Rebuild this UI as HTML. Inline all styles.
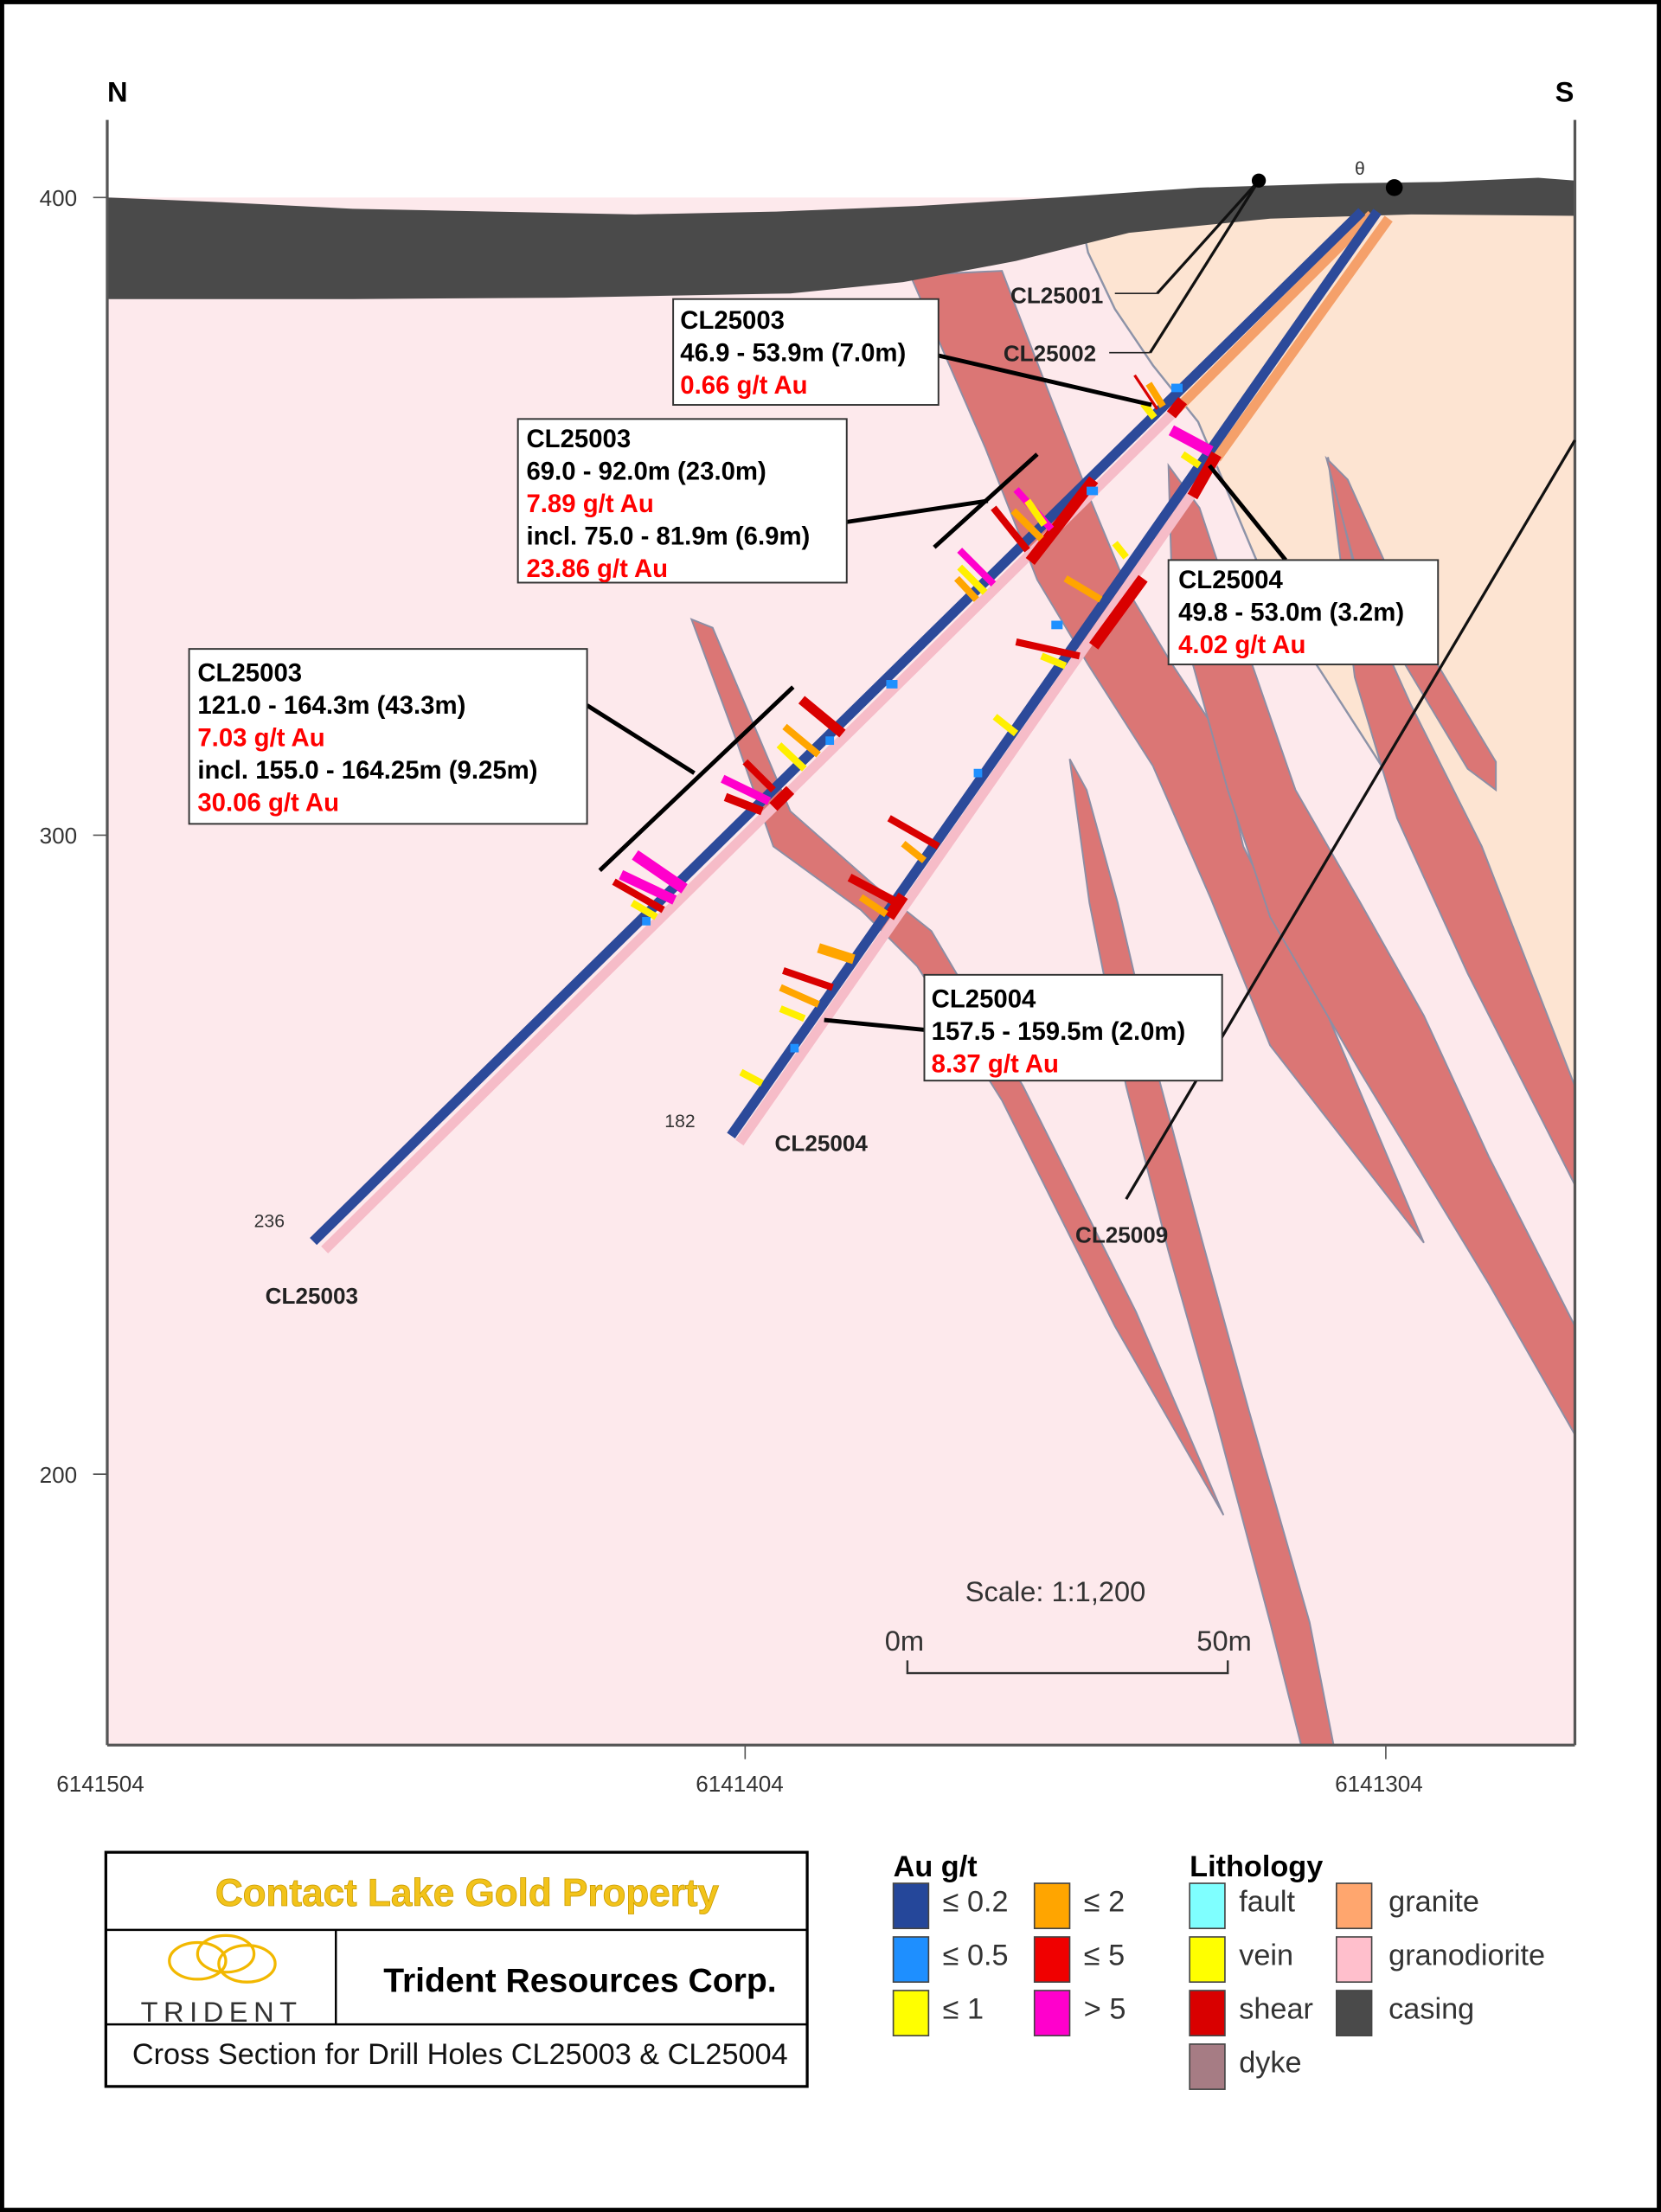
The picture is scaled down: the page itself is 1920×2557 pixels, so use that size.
<!DOCTYPE html>
<html><head><meta charset="utf-8"><style>html,body{margin:0;padding:0;background:#fff}svg{display:block}</style></head>
<body>
<svg width="1920" height="2557" viewBox="0 0 1177 1568" preserveAspectRatio="none" xmlns="http://www.w3.org/2000/svg" font-family="Liberation Sans, Arial, sans-serif">
<rect x="1.5" y="1.5" width="1174" height="1565" fill="#fff" stroke="#000" stroke-width="3"/>
<rect x="76" y="140" width="1040" height="1097" fill="#fde9ec"/>
<path d="M765,150 L1116,150 L1116,790 L1055,665 L990,560 L900,420 L849,299 L817,259 L790,219 L771,179 Z" fill="#fde4d2" stroke="#8d93a8" stroke-width="1.5"/>
<g fill="#db7675" stroke="#8d8ea4" stroke-width="1.2">
<path d="M645,195 L698,317 L735,411 L771,471 L817,543 L858,637 L900,741 L1009,881 L941,720 L881,600 L863,520 L830,470 L800,420 L771,350 L740,270 L710,192 Z"/>
<path d="M828,330 L850,360 L880,450 L918,560 L964,640 L1009,720 L1055,820 L1116,940 L1116,1017 L1055,910 L964,760 L900,650 L870,560 L845,470 L830,400 Z"/>
<path d="M941,324 L964,420 L1000,500 L1050,600 L1116,770 L1116,840 L1040,690 L990,580 L960,480 Z"/>
<path d="M940,325 L955,340 L1000,440 L1060,540 L1060,560 L1040,545 L995,470 L960,400 Z"/>
<path d="M490,439 L505,445 L560,575 L620,628 L660,660 L725,770 L805,930 L867,1074 L790,940 L710,780 L650,685 L610,645 L548,600 L520,520 Z"/>
<path d="M758,538 L770,560 L792,640 L820,760 L852,880 L885,1000 L928,1150 L945,1237 L922,1237 L900,1150 L860,1000 L828,887 L798,770 L772,640 Z"/>
</g>
<path d="M76,140 L150,143 L250,148 L350,150 L450,152 L550,150 L650,146 L750,140 L850,133 L950,130 L1020,129 L1090,126 L1116,128 L1116,153 L1000,152 L900,155 L800,165 L720,185 L640,200 L560,208 L400,211 L250,212 L76,212 Z" fill="#4a4a4a"/>
<line x1="76" y1="85" x2="76" y2="1237" stroke="#555" stroke-width="2"/>
<line x1="1116" y1="85" x2="1116" y2="1237" stroke="#555" stroke-width="2"/>
<line x1="76" y1="1237" x2="1116" y2="1237" stroke="#555" stroke-width="2"/>
<line x1="66" y1="140" x2="76" y2="140" stroke="#555"/><line x1="66" y1="592" x2="76" y2="592" stroke="#555"/><line x1="66" y1="1045" x2="76" y2="1045" stroke="#555"/>
<line x1="528" y1="1237" x2="528" y2="1247" stroke="#555"/><line x1="982" y1="1237" x2="982" y2="1247" stroke="#555"/>
<g font-size="16" fill="#333"><text x="28" y="146">400</text><text x="28" y="598">300</text><text x="28" y="1051">200</text>
<text x="40" y="1270">6141504</text><text x="493" y="1270">6141404</text><text x="946" y="1270">6141304</text></g>
<text x="76" y="72" font-size="20" font-weight="bold">N</text><text x="1102" y="72" font-size="20" font-weight="bold">S</text>
<line x1="1116" y1="312" x2="798" y2="850" stroke="#111" stroke-width="2"/>
<line x1="892" y1="128" x2="820" y2="208" stroke="#111" stroke-width="2"/><line x1="892" y1="128" x2="815" y2="250" stroke="#111" stroke-width="2"/>
<circle cx="892" cy="128" r="5" fill="#000"/><circle cx="988" cy="133" r="6" fill="#000"/>
<text x="960" y="124" font-size="13" fill="#333">θ</text>
<line x1="972" y1="152" x2="834" y2="290" stroke="#f5a06a" stroke-width="7"/>
<line x1="834" y1="290" x2="230" y2="886" stroke="#f6bcc8" stroke-width="7"/>
<line x1="965" y1="150" x2="222" y2="880" stroke="#2c4a9a" stroke-width="7"/>
<line x1="984" y1="155" x2="862" y2="325" stroke="#f5a06a" stroke-width="7"/>
<line x1="862" y1="325" x2="524" y2="810" stroke="#f6bcc8" stroke-width="7"/>
<line x1="976" y1="150" x2="518" y2="805" stroke="#2c4a9a" stroke-width="7"/>
<g stroke="#d90000" stroke-width="8"><line x1="838" y1="284" x2="830" y2="294"/><line x1="775" y1="340" x2="730" y2="398"/><line x1="560" y1="560" x2="548" y2="572"/>
<line x1="862" y1="322" x2="845" y2="352"/><line x1="810" y1="410" x2="775" y2="458"/><line x1="640" y1="635" x2="630" y2="650"/></g>
<g stroke-width="5">
<line x1="820" y1="290" x2="804" y2="266" stroke="#d90000" stroke-width="2"/><line x1="824" y1="288" x2="814" y2="272" stroke="#ffa500"/><line x1="818" y1="296" x2="810" y2="286" stroke="#ffef00"/>
<line x1="858" y1="320" x2="830" y2="305" stroke="#ff00cc" stroke-width="8"/><line x1="850" y1="330" x2="838" y2="322" stroke="#ffef00"/>
<line x1="745" y1="375" x2="720" y2="347" stroke="#ff00cc"/><line x1="738" y1="382" x2="718" y2="362" stroke="#ffa500"/><line x1="728" y1="390" x2="704" y2="360" stroke="#d90000"/><line x1="740" y1="372" x2="728" y2="355" stroke="#ffef00"/>
<line x1="704" y1="414" x2="680" y2="390" stroke="#ff00cc"/><line x1="698" y1="420" x2="680" y2="402" stroke="#ffef00"/><line x1="692" y1="425" x2="678" y2="410" stroke="#ffa500"/>
<line x1="597" y1="520" x2="568" y2="496" stroke="#d90000" stroke-width="7"/><line x1="580" y1="535" x2="556" y2="515" stroke="#ffa500"/><line x1="570" y1="545" x2="552" y2="528" stroke="#ffef00"/>
<line x1="545" y1="568" x2="512" y2="552" stroke="#ff00cc" stroke-width="6"/><line x1="540" y1="575" x2="514" y2="565" stroke="#d90000" stroke-width="6"/><line x1="548" y1="560" x2="528" y2="540" stroke="#d90000"/>
<line x1="485" y1="630" x2="450" y2="606" stroke="#ff00cc" stroke-width="8"/><line x1="478" y1="638" x2="440" y2="620" stroke="#ff00cc" stroke-width="7"/><line x1="470" y1="645" x2="435" y2="625" stroke="#d90000"/><line x1="465" y1="650" x2="448" y2="640" stroke="#ffef00"/>
<line x1="780" y1="425" x2="755" y2="410" stroke="#ffa500"/><line x1="798" y1="395" x2="790" y2="385" stroke="#ffef00"/>
<line x1="765" y1="465" x2="720" y2="455" stroke="#d90000"/><line x1="755" y1="472" x2="738" y2="465" stroke="#ffef00"/>
<line x1="720" y1="520" x2="705" y2="508" stroke="#ffef00"/><line x1="665" y1="600" x2="630" y2="580" stroke="#d90000"/><line x1="655" y1="610" x2="640" y2="598" stroke="#ffa500"/>
<line x1="636" y1="640" x2="602" y2="622" stroke="#d90000" stroke-width="6"/><line x1="628" y1="648" x2="610" y2="636" stroke="#ffa500"/>
<line x1="605" y1="680" x2="580" y2="672" stroke="#ffa500" stroke-width="7"/><line x1="590" y1="700" x2="555" y2="688" stroke="#d90000"/><line x1="580" y1="712" x2="553" y2="700" stroke="#ffa500"/><line x1="570" y1="722" x2="553" y2="715" stroke="#ffef00"/>
<line x1="540" y1="768" x2="525" y2="760" stroke="#ffef00"/>
</g>
<g fill="#1e90ff"><rect x="830" y="272" width="8" height="6"/><rect x="770" y="345" width="8" height="6"/><rect x="628" y="482" width="8" height="6"/><rect x="585" y="522" width="6" height="6"/><rect x="745" y="440" width="8" height="6"/><rect x="690" y="545" width="6" height="6"/><rect x="560" y="740" width="6" height="6"/><rect x="455" y="650" width="6" height="6"/></g>
<g font-size="16" font-weight="bold" fill="#222">
<text x="716" y="215">CL25001</text><text x="711" y="256">CL25002</text>
<text x="549" y="816">CL25004</text><text x="762" y="881">CL25009</text><text x="188" y="924">CL25003</text></g>
<line x1="790" y1="208" x2="820" y2="208" stroke="#222"/><line x1="786" y1="250" x2="815" y2="250" stroke="#222"/>
<g font-size="13" fill="#333"><text x="471" y="799">182</text><text x="180" y="870">236</text></g>
<g stroke="#000" stroke-width="3"><line x1="665" y1="252" x2="816" y2="287"/><line x1="600" y1="370" x2="700" y2="355"/><line x1="735" y1="322" x2="662" y2="388"/>
<line x1="857" y1="330" x2="911" y2="397"/><line x1="416" y1="500" x2="492" y2="548"/><line x1="562" y1="487" x2="425" y2="617"/><line x1="655" y1="730" x2="584" y2="723"/></g>
<g fill="#fff" stroke="#333" stroke-width="1.2">
<rect x="477" y="212" width="188" height="75"/><rect x="367" y="297" width="233" height="116"/><rect x="828" y="397" width="191" height="74"/><rect x="134" y="460" width="282" height="124"/><rect x="655" y="691" width="211" height="75"/></g>
<g font-size="18" font-weight="bold">
<text x="482" y="233">CL25003</text><text x="482" y="256">46.9 - 53.9m (7.0m)</text><text x="482" y="279" fill="#f00">0.66 g/t Au</text>
<text x="373" y="317">CL25003</text><text x="373" y="340">69.0 - 92.0m (23.0m)</text><text x="373" y="363" fill="#f00">7.89 g/t Au</text><text x="373" y="386">incl. 75.0 - 81.9m (6.9m)</text><text x="373" y="409" fill="#f00">23.86 g/t Au</text>
<text x="835" y="417">CL25004</text><text x="835" y="440">49.8 - 53.0m (3.2m)</text><text x="835" y="463" fill="#f00">4.02 g/t Au</text>
<text x="140" y="483">CL25003</text><text x="140" y="506">121.0 - 164.3m (43.3m)</text><text x="140" y="529" fill="#f00">7.03 g/t Au</text><text x="140" y="552">incl. 155.0 - 164.25m (9.25m)</text><text x="140" y="575" fill="#f00">30.06 g/t Au</text>
<text x="660" y="714">CL25004</text><text x="660" y="737">157.5 - 159.5m (2.0m)</text><text x="660" y="760" fill="#f00">8.37 g/t Au</text></g>
<g font-size="20" fill="#333"><text x="684" y="1135">Scale: 1:1,200</text><text x="627" y="1170">0m</text><text x="848" y="1170">50m</text></g>
<path d="M643,1177 L643,1186 L870,1186 L870,1177" fill="none" stroke="#333" stroke-width="1.5"/>
<rect x="75" y="1313" width="497" height="166" fill="#fff" stroke="#000" stroke-width="2"/>
<line x1="75" y1="1368" x2="572" y2="1368" stroke="#000" stroke-width="1.5"/><line x1="75" y1="1435" x2="572" y2="1435" stroke="#000" stroke-width="1.5"/><line x1="238" y1="1368" x2="238" y2="1435" stroke="#000" stroke-width="1.5"/>
<text x="331" y="1351" font-size="27" font-weight="bold" fill="#f2c31a" stroke="#c99a00" stroke-width="0.5" text-anchor="middle">Contact Lake Gold Property</text>
<text x="411" y="1412" font-size="24" font-weight="bold" text-anchor="middle">Trident Resources Corp.</text>
<text x="326" y="1463" font-size="21" text-anchor="middle" fill="#111">Cross Section for Drill Holes CL25003 &amp; CL25004</text>
<g fill="none" stroke="#f2b800" stroke-width="2"><ellipse cx="140" cy="1390" rx="20" ry="13"/><ellipse cx="160" cy="1385" rx="20" ry="13"/><ellipse cx="175" cy="1392" rx="20" ry="13"/></g>
<text x="157" y="1433" font-size="20" text-anchor="middle" fill="#333" letter-spacing="4">TRIDENT</text>
<g font-size="21" font-weight="bold"><text x="633" y="1330">Au g/t</text><text x="843" y="1330">Lithology</text></g>
<g stroke="#444" stroke-width="1">
<rect x="633" y="1335" width="25" height="32" fill="#25479a"/><rect x="633" y="1373" width="25" height="32" fill="#1e8fff"/><rect x="633" y="1411" width="25" height="32" fill="#ffff00"/>
<rect x="733" y="1335" width="25" height="32" fill="#ffa500"/><rect x="733" y="1373" width="25" height="32" fill="#f00000"/><rect x="733" y="1411" width="25" height="32" fill="#ff00cc"/>
<rect x="843" y="1335" width="25" height="32" fill="#7fffff"/><rect x="843" y="1373" width="25" height="32" fill="#ffff00"/><rect x="843" y="1411" width="25" height="32" fill="#d90000"/><rect x="843" y="1449" width="25" height="32" fill="#a67c84"/>
<rect x="947" y="1335" width="25" height="32" fill="#ffa66e"/><rect x="947" y="1373" width="25" height="32" fill="#ffbfcc"/><rect x="947" y="1411" width="25" height="32" fill="#4a4a4a"/></g>
<g font-size="21" fill="#333">
<text x="668" y="1355">≤ 0.2</text><text x="668" y="1393">≤ 0.5</text><text x="668" y="1431">≤ 1</text>
<text x="768" y="1355">≤ 2</text><text x="768" y="1393">≤ 5</text><text x="768" y="1431">&gt; 5</text>
<text x="878" y="1355">fault</text><text x="878" y="1393">vein</text><text x="878" y="1431">shear</text><text x="878" y="1469">dyke</text>
<text x="984" y="1355">granite</text><text x="984" y="1393">granodiorite</text><text x="984" y="1431">casing</text></g>
</svg>
</body></html>
